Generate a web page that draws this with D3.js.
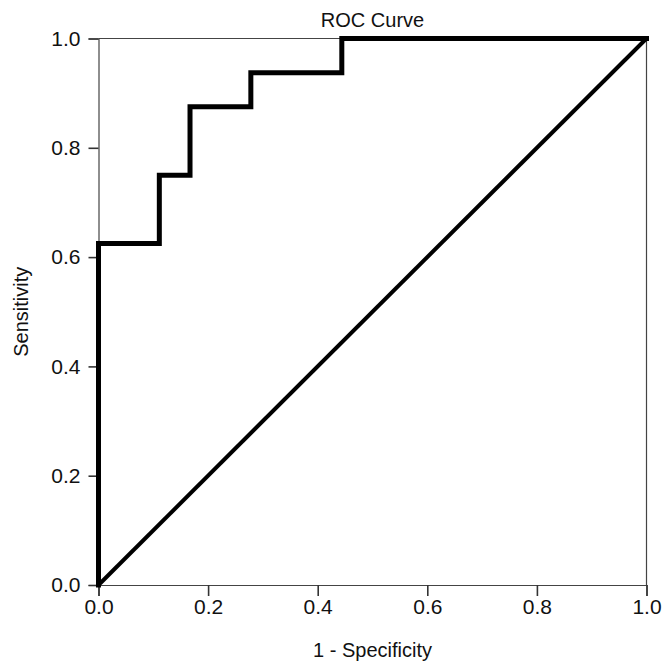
<!DOCTYPE html>
<html>
<head>
<meta charset="utf-8">
<script src="https://cdn.jsdelivr.net/npm/d3@7"></script>
<style>
  body { margin: 0; background: #fff; }
  text { font-family: Helvetica, Arial, 'Liberation Sans', sans-serif; fill: #111; }
</style>
</head>
<body>
<script>
// ROC points (step after), 1 - specificity vs sensitivity
const fpr = [0, 0, 0.111, 0.167, 0.278, 0.444, 1.0];
const tpr = [0, 0.625, 0.75, 0.875, 0.9375, 1.0, 1.0];
const refLine = [[0, 0], [1, 1]];
const tickValues = [0, 0.2, 0.4, 0.6, 0.8, 1.0];

const width = 662;
const height = 663;
const margin = {top: 38.5, right: 15.5, bottom: 78, left: 98.5};

const svg = d3.select('body')
  .append('svg')
  .attr('width', width)
  .attr('height', height);

const xScale = d3.scaleLinear()
  .domain([0, 1])
  .range([margin.left, width - margin.right]);

const yScale = d3.scaleLinear()
  .domain([0, 1])
  .range([height - margin.bottom, margin.top]);

// frame top + right
svg.append('path')
  .attr('d', `M${xScale(0)},${yScale(1)}H${xScale(1)}V${yScale(0)}`)
  .attr('fill', 'none')
  .attr('stroke', '#444')
  .attr('stroke-width', 1.2);

const xAxis = d3.axisBottom(xScale)
  .tickValues(tickValues)
  .tickFormat(d3.format('.1f'))
  .tickSize(11)
  .tickPadding(3);

const yAxis = d3.axisLeft(yScale)
  .tickValues(tickValues)
  .tickFormat(d3.format('.1f'))
  .tickSize(10)
  .tickPadding(8);

const gx = svg.append('g')
  .attr('transform', `translate(0, ${yScale(0)})`)
  .call(xAxis);

const gy = svg.append('g')
  .attr('transform', `translate(${xScale(0)}, 0)`)
  .call(yAxis);

[gx, gy].forEach(g => {
  g.select('.domain').attr('stroke', '#444').attr('stroke-width', 1.2);
  g.selectAll('.tick line').attr('stroke', '#333').attr('stroke-width', 1.6);
  g.selectAll('.tick text')
    .style('font-size', '21px')
    .style('font-family', "Helvetica, Arial, 'Liberation Sans', sans-serif")
    .attr('fill', '#111');
});

// diagonal reference
svg.append('path')
  .datum(refLine)
  .attr('d', d3.line().x(d => xScale(d[0])).y(d => yScale(d[1])))
  .attr('fill', 'none')
  .attr('stroke', '#000')
  .attr('stroke-width', 4);

// ROC curve
const line = d3.line()
  .x((d, i) => xScale(fpr[i]))
  .y((d, i) => yScale(tpr[i]))
  .curve(d3.curveStepAfter);

svg.append('path')
  .datum(fpr)
  .attr('d', line)
  .attr('fill', 'none')
  .attr('stroke', '#000')
  .attr('stroke-width', 5)
  .attr('stroke-linejoin', 'miter')
  .attr('stroke-linecap', 'square');

const cx = (xScale(0) + xScale(1)) / 2;
const cy = (yScale(0) + yScale(1)) / 2;

svg.append('text')
  .attr('x', cx)
  .attr('y', 27)
  .attr('text-anchor', 'middle')
  .style('font-size', '20px')
  .text('ROC Curve');

svg.append('text')
  .attr('x', cx)
  .attr('y', 657)
  .attr('text-anchor', 'middle')
  .style('font-size', '20px')
  .text('1 - Specificity');

svg.append('text')
  .attr('transform', `translate(28, ${cy}) rotate(-90)`)
  .attr('text-anchor', 'middle')
  .style('font-size', '20px')
  .text('Sensitivity');
</script>
</body>
</html>
